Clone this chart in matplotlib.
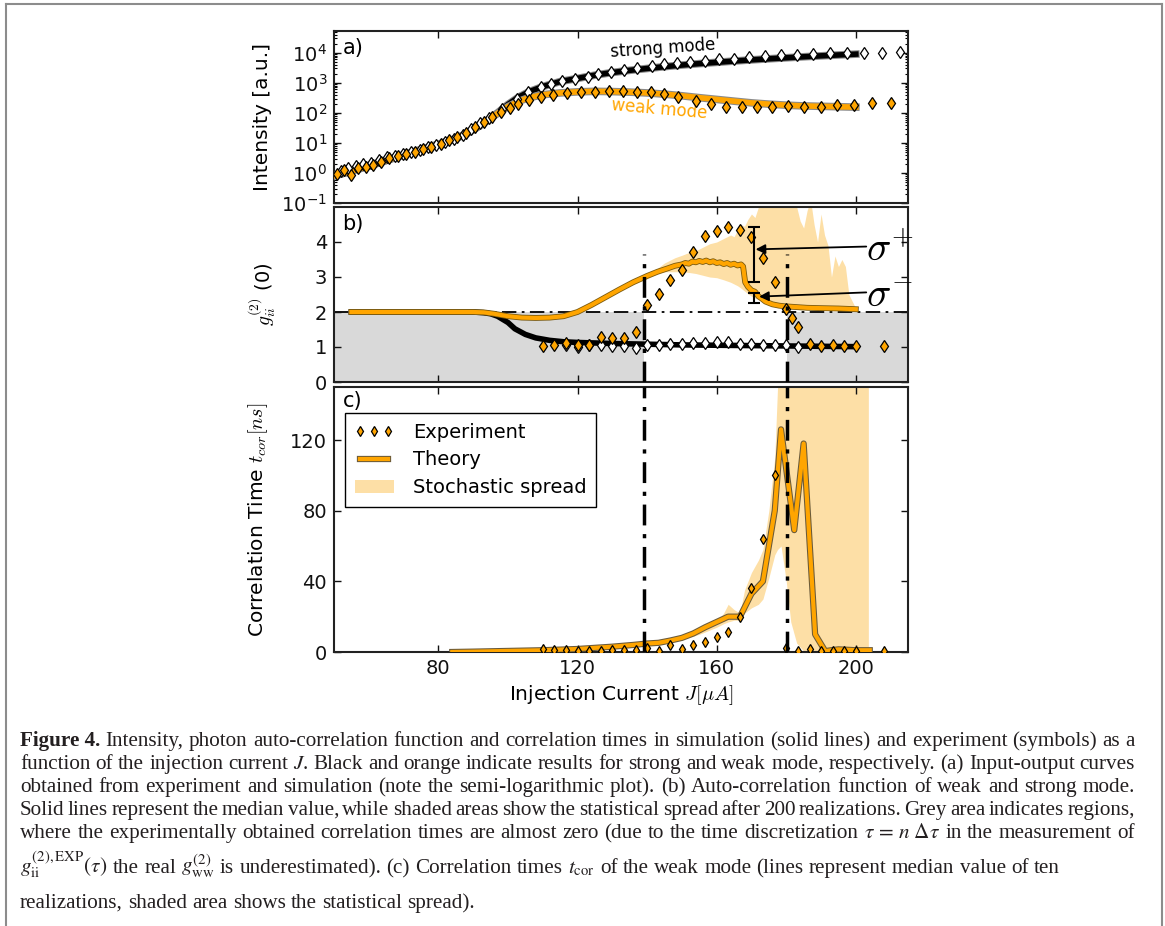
import matplotlib
matplotlib.use('Agg')
import matplotlib.pyplot as plt
import matplotlib.patheffects as pe
from matplotlib.lines import Line2D
from matplotlib.ticker import LogLocator, NullFormatter

# ---------------- data ----------------
# panel a: experiment
a_weak_exp_x = [50.8, 53.0, 54.9, 56.8, 59.2, 61.3, 63.5, 65.9, 68.3, 70.7, 73.3, 75.5, 77.9, 80.8,
                83.0, 85.5, 88.0, 90.5, 93.0, 95.5, 98.0, 100.5, 103.0, 106.0, 109.5, 113.0, 117.0,
                121.0, 125.0, 129.0, 133.0, 137.0, 141.0, 145.0, 149.0, 154.0, 158.5, 162.8, 167.2,
                171.5, 176.0, 180.5, 185.1, 189.9, 194.6, 199.6, 204.7, 210.0]
a_weak_exp_y = [0.94, 1.21, 0.83, 1.45, 1.55, 1.86, 2.3, 3.1, 3.8, 4.3, 5.1, 6.3, 7.1, 9.1,
                12.6, 16, 22, 33, 50, 75, 110, 150, 200, 260, 330, 400, 450,
                490, 510, 530, 520, 500, 480, 440, 340, 250, 200, 162, 162,
                162, 162, 165, 162, 162, 178, 178, 205, 218]
a_strong_exp_x = [52.1, 54.0, 56.2, 58.3, 60.7, 62.9, 65.2, 67.4, 69.8, 72.2, 74.7, 76.9, 79.3, 82.0,
                  84.5, 87.0, 89.5, 92.0, 94.5, 98.4, 102.7, 105.7, 109.4, 112.5, 115.5, 119.2,
                  122.9, 126.0, 129.6, 133.3, 137.0, 141.3, 144.9, 148.6, 152.3, 156.6, 160.7,
                  165.0, 169.3, 173.8, 178.4, 183.0, 187.8, 192.5, 197.5, 202.3, 207.6, 212.8]
a_strong_exp_y = [1.12, 1.45, 1.77, 2.0, 2.2, 2.8, 3.3, 3.8, 4.3, 5.1, 5.9, 7.1, 8.5, 11,
                  14, 19, 28, 45, 70, 138, 295, 490, 720, 930, 1130, 1350,
                  1620, 2000, 2240, 2680, 3100, 3700, 4230, 4600, 5000, 5450, 6200,
                  6300, 7000, 7600, 8200, 8600, 9300, 9800, 9800, 10200, 10200, 10800]
# panel a: theory (median)
a_th_x = [50, 55, 60, 65, 70, 75, 80, 85, 88, 91, 94, 97, 100, 103, 106, 110, 115, 120, 125, 130,
          135, 140, 145, 150, 155, 160, 165, 170, 175, 180, 185, 190, 195, 200]
a_strong_th = [0.8, 1.15, 1.7, 2.6, 4, 6, 9, 14, 20, 32, 55, 100, 190, 330, 500, 750, 1100, 1400,
               1800, 2200, 2600, 3000, 3450, 3900, 4350, 4800, 5300, 5800, 6300, 6800, 7350,
               7900, 8450, 9000]
a_weak_th = [0.8, 1.15, 1.7, 2.6, 4, 6, 9, 14, 20, 32, 55, 95, 160, 240, 320, 400, 460, 500,
             520, 510, 490, 460, 420, 370, 320, 280, 245, 215, 195, 180, 170, 165, 160, 155]

# panel b: experiment
b_weak_exp_x = [110, 113.3, 116.7, 120, 123.3, 126.7, 130, 133.3, 136.7, 140, 143.3, 146.7, 150,
                153.3, 156.7, 160, 163.3, 166.7, 170, 173.3, 176.7, 180, 181.7, 183.3, 186.7, 190,
                193.3, 196.7, 200, 208]
b_weak_exp_y = [1.02, 1.05, 1.12, 1.05, 1.07, 1.28, 1.27, 1.27, 1.44, 2.2, 2.5, 2.92, 3.2,
                3.72, 4.18, 4.3, 4.42, 4.35, 4.15, 3.55, 2.85, 2.08, 1.82, 1.57, 1.1, 1.03,
                1.05, 1.03, 1.03, 1.02]
b_strong_exp_x = [116.7, 120, 123.3, 126.7, 130, 133.3, 136.7, 140, 143.3, 146.7, 150, 153.3,
                  156.7, 160, 163.3, 166.7, 170, 173.3, 176.7, 180, 183.3]
b_strong_exp_y = [1.05, 1.0, 1.05, 1.05, 1.03, 1.03, 0.98, 1.05, 1.05, 1.1, 1.1, 1.12,
                  1.12, 1.14, 1.14, 1.1, 1.1, 1.05, 1.05, 1.05, 1.0]
# panel b: theory
b_strong_th_x = [55, 80, 90, 93, 95, 97, 100, 102, 105, 108, 112, 116, 120, 130, 140, 150, 160,
                 170, 180, 190, 200]
b_strong_th_y = [2.0, 2.0, 2.0, 1.98, 1.95, 1.88, 1.7, 1.52, 1.36, 1.26, 1.19, 1.15, 1.13, 1.1,
                 1.08, 1.06, 1.05, 1.04, 1.03, 1.02, 1.01]
b_weak_th_x = [55, 70, 90, 93, 96, 100, 104, 108, 112, 116, 120, 124, 128, 132, 136, 140, 143,
               146, 148, 150, 151, 152, 153, 154, 155, 156, 157, 158, 159, 160, 161, 162, 163,
               164, 165, 166, 167, 167.6, 168.2, 169, 170, 171, 172, 173, 174, 176, 178, 180,
               183, 186, 190, 195, 200]
b_weak_th_y = [2.0, 2.0, 2.0, 1.99, 1.95, 1.88, 1.84, 1.83, 1.84, 1.88, 2.0, 2.2, 2.42, 2.64,
               2.85, 3.03, 3.15, 3.25, 3.32, 3.36, 3.40, 3.38, 3.44, 3.42, 3.46, 3.43, 3.47,
               3.42, 3.45, 3.40, 3.42, 3.37, 3.40, 3.35, 3.38, 3.33, 3.36, 3.30, 2.85, 2.72,
               2.62, 2.58, 2.45, 2.38, 2.30, 2.22, 2.18, 2.16, 2.14, 2.12, 2.11, 2.10, 2.08]
b_spread_x = [135, 140, 143, 145, 148, 150, 152, 154, 156, 158, 160, 162, 164, 165, 166, 167,
              168, 169, 170, 171, 172, 173, 175, 178, 180, 181, 183, 184, 185, 186, 187, 188,
              189, 190, 191, 192, 193, 194, 195, 196, 197, 198, 199, 200]
b_spread_lo = [2.75, 2.95, 3.1, 3.15, 3.15, 3.15, 3.13, 3.1, 3.05, 3.0, 2.98, 2.92, 2.85, 2.8,
               2.75, 2.68, 2.6, 2.52, 2.45, 2.4, 2.35, 2.3, 2.22, 2.15, 2.1, 2.1, 2.09, 2.09,
               2.09, 2.08, 2.08, 2.08, 2.08, 2.08, 2.07, 2.07, 2.07, 2.06, 2.06, 2.06, 2.05,
               2.05, 2.05, 2.05]
b_spread_hi = [2.8, 3.05, 3.25, 3.4, 3.55, 3.62, 3.7, 3.75, 3.85, 3.95, 4.0, 4.1, 4.2, 4.15,
               4.35, 4.5, 4.45, 4.65, 4.8, 4.7, 5.0, 5.3, 5.5, 5.5, 5.2, 5.5, 5.0, 4.6, 4.4,
               4.9, 5.2, 4.5, 4.0, 4.8, 4.2, 3.9, 3.0, 3.6, 3.3, 3.5, 3.3, 2.5, 2.3, 2.1]
sigma_x = 170.7
sigma_plus = (2.87, 4.42)
sigma_minus = (2.25, 2.55)
vline_x = [139.0, 180.2]

# panel c
c_exp_x = [110, 113.3, 116.7, 120, 123.3, 126.7, 130, 133.3, 136.7, 140, 143.3, 146.7, 150, 153.3,
           156.7, 160, 163.3, 166.7, 170, 173.3, 176.7, 180, 183.3, 186.7, 190, 193.3, 196.7, 200,
           208]
c_exp_y = [1.5, 1.0, 1.0, 0.5, 0.5, 0.8, 1.0, 1.0, 1.0, 2.5, 0.5, 4.0, 1.5, 4.0,
           5.8, 8.6, 11.5, 20, 36, 64, 100, 2.0, 0.5, 1.5, 0.8, 0.5, 0.5, 0.5, 0.8]
c_th_x = [84, 90, 100, 110, 120, 130, 136, 140, 143.3, 146.7, 150, 153.3, 156.7, 160, 163.3,
          166.7, 170, 173.3, 176.7, 178.5, 182.3, 185, 188.3, 191.2, 193, 195, 198, 200, 204]
c_th_y = [0, 0.2, 0.6, 1.0, 1.7, 3.0, 4.0, 4.8, 5.2, 6.5, 8.0, 10.5, 14, 17, 20,
          20, 33, 40, 80, 126, 69, 118, 10, 0.5, 1.0, 1.5, 1.2, 1.0, 1.0]
c_spread_x = [84, 100, 120, 130, 140, 145, 150, 155, 160, 162, 163.3, 165, 166.7, 168, 170, 172,
              173.3, 175, 176.7, 177.5, 178.5, 180, 181.3, 183, 185, 187, 190, 195, 200, 203.6]
c_spread_lo = [0, 0.4, 1.2, 2.5, 4.0, 5.0, 7.0, 10, 14, 16, 17, 18, 18, 22, 25, 27,
               30, 42, 55, 58, 60, 40, 17, 5, 0.6, 0, 0, 0, 0, 0]
c_spread_hi = [0, 0.8, 2.2, 3.5, 5.5, 6.5, 9, 12, 17, 22, 27, 24, 22, 35, 45, 52,
               58, 80, 110, 150, 160, 160, 160, 160, 160, 160, 160, 160, 160, 160]

x_ticks = [80, 120, 160, 200]

caption_lines = [
    "Intensity, photon auto-correlation function and correlation times in simulation (solid lines) and experiment (symbols) as a",
    "function of the injection current $J$. Black and orange indicate results for strong and weak mode, respectively. (a) Input-output curves",
    "obtained from experiment and simulation (note the semi-logarithmic plot). (b) Auto-correlation function of weak and strong mode.",
    "Solid lines represent the median value, while shaded areas show the statistical spread after 200 realizations. Grey area indicates regions,",
    r"where the experimentally obtained correlation times are almost zero (due to the time discretization $\tau\,=\,n\ \Delta\tau$ in the measurement of",
    r"$g_{\rm ii}^{(2),{\rm EXP}}(\tau)$ the real $g_{\rm ww}^{(2)}$ is underestimated). (c) Correlation times $t_{\rm cor}$ of the weak mode (lines represent median value of ten",
    "realizations, shaded area shows the statistical spread).",
]

# ---------------- style ----------------
plt.rcParams['font.family'] = ['DejaVu Sans']
plt.rcParams['mathtext.fontset'] = 'dejavusans'

W, H = 1165, 926
fig = plt.figure(figsize=(W / 100, H / 100), dpi=100)

ORANGE = '#FFA500'
SPREAD = '#FDDFA6'


def rect(l, t, r, b):
    return [l / W, 1 - b / H, (r - l) / W, (b - t) / H]


axa = fig.add_axes(rect(334, 31, 908, 203))
axb = fig.add_axes(rect(334, 207, 908, 382))
axc = fig.add_axes(rect(334, 387, 908, 652))

for ax in (axa, axb, axc):
    ax.set_xlim(50, 215)
    ax.set_xticks(x_ticks)
    ax.tick_params(which='major', direction='in', top=True, right=True, length=5, width=1,
                   labelsize=14, pad=5, colors='#111111')
    ax.tick_params(which='minor', direction='in', top=True, right=True, length=2.5, width=0.8)
    for s in ax.spines.values():
        s.set_linewidth(1.5)
        s.set_color('#222222')
axa.tick_params(labelbottom=False)
axb.tick_params(labelbottom=False)

line_fx = [pe.Stroke(linewidth=5.5, foreground='#8a8a8a'), pe.Normal()]
mk = dict(marker='d', ls='none', markersize=6, markeredgecolor='black', markeredgewidth=0.9)

# ---- panel a ----
axa.set_yscale('log')
axa.set_ylim(0.1, 5.3e4)
axa.set_yticks([1e-1, 1e0, 1e1, 1e2, 1e3, 1e4])
axa.yaxis.set_minor_locator(LogLocator(base=10, subs=range(2, 10), numticks=20))
axa.yaxis.set_minor_formatter(NullFormatter())
axa.plot(a_th_x, a_strong_th, color='black', lw=4, path_effects=line_fx, zorder=3)
axa.plot(a_th_x, a_weak_th, color=ORANGE, lw=4, path_effects=line_fx, zorder=3)
axa.plot(a_strong_exp_x, a_strong_exp_y, markerfacecolor='white', zorder=4, **dict(mk, markersize=6.5))
axa.plot(a_weak_exp_x, a_weak_exp_y, markerfacecolor=ORANGE, zorder=4, **dict(mk, markersize=6.5))
axa.text(144.6, 1.35e4, 'strong mode', fontsize=12, color='black', ha='center', va='center',
         rotation=4)
axa.text(143.4, 1.3e2, 'weak mode', fontsize=12, color=ORANGE, ha='center', va='center',
         rotation=-5)
axa.text(0.015, 0.96, 'a)', transform=axa.transAxes, fontsize=15, va='top', ha='left')
axa.set_ylabel('Intensity [a.u.]', fontsize=14.5)
axa.yaxis.set_label_coords(-0.108, 0.5)

# ---- panel b ----
axb.set_ylim(0, 5)
axb.set_yticks([0, 1, 2, 3, 4])
axb.axhspan(0, 2, xmin=0, xmax=(vline_x[0] - 50) / 165, color='#d9d9d9', zorder=0, lw=0)
axb.axhspan(0, 2, xmin=(vline_x[1] - 50) / 165, xmax=1, color='#d9d9d9', zorder=0, lw=0)
axb.axhline(2, color='black', lw=1.3, ls=(0, (8, 3, 1.5, 3)), zorder=1)
for xv in vline_x:
    axb.plot([xv, xv], [0, 3.65], color='black', lw=2.5, ls=(0, (6, 2.5, 1.2, 2.5)), zorder=5)
axb.fill_between(b_spread_x, b_spread_lo, b_spread_hi, color=SPREAD, lw=0, zorder=1)
axb.plot(b_strong_th_x, b_strong_th_y, color='black', lw=4, zorder=3)
axb.plot(b_weak_th_x, b_weak_th_y, color=ORANGE, lw=3,
         path_effects=[pe.Stroke(linewidth=4.2, foreground='#7a5a10'), pe.Normal()], zorder=3)
axb.plot(b_strong_exp_x, b_strong_exp_y, markerfacecolor='white', zorder=4, **mk)
axb.plot(b_weak_exp_x, b_weak_exp_y, markerfacecolor=ORANGE, zorder=4, **mk)
axb.errorbar([sigma_x], [sum(sigma_plus) / 2], yerr=[(sigma_plus[1] - sigma_plus[0]) / 2],
             color='black', lw=1.5, capsize=4, capthick=1.5, zorder=6)
axb.errorbar([sigma_x], [sum(sigma_minus) / 2], yerr=[(sigma_minus[1] - sigma_minus[0]) / 2],
             color='black', lw=1.5, capsize=4, capthick=1.5, zorder=6)
arrow = dict(arrowstyle='-|>', color='black', lw=1.3, shrinkA=0, shrinkB=0, mutation_scale=14)
axb.annotate('', xy=(sigma_x + 0.5, 3.79), xytext=(203, 3.87), arrowprops=arrow, zorder=6)
axb.annotate('', xy=(sigma_x + 1.5, 2.44), xytext=(203, 2.56), arrowprops=arrow, zorder=6)
axb.text(203, 3.78, r'$\sigma^{+}$', fontsize=29, math_fontfamily='cm', ha='left', va='center',
         clip_on=False, zorder=7)
axb.text(203, 2.5, r'$\sigma^{-}$', fontsize=29, math_fontfamily='cm', ha='left', va='center',
         clip_on=False, zorder=7)
axb.text(0.015, 0.96, 'b)', transform=axb.transAxes, fontsize=15, va='top', ha='left')
axb.set_ylabel(r'$g_{ii}^{(2)}$ (0)', fontsize=14, math_fontfamily='cm')
axb.yaxis.set_label_coords(-0.098, 0.5)

# ---- panel c ----
axc.set_ylim(0, 150)
axc.set_yticks([0, 40, 80, 120])
axc.fill_between(c_spread_x, c_spread_lo, c_spread_hi, color=SPREAD, lw=0, zorder=1,
                 label='Stochastic spread')
for xv in vline_x:
    axc.axvline(xv, color='black', lw=2.5, ls=(0, (6, 2.5, 1.2, 2.5)), zorder=5)
axc.plot(c_th_x, c_th_y, color=ORANGE, lw=3,
         path_effects=[pe.Stroke(linewidth=4.5, foreground='#6a5a3a'), pe.Normal()],
         zorder=3, label='Theory')
axc.plot(c_exp_x, c_exp_y, markerfacecolor=ORANGE, zorder=4, label='Experiment',
         **dict(mk, markersize=5.5))
axc.text(0.015, 0.985, 'c)', transform=axc.transAxes, fontsize=15, va='top', ha='left')
axc.set_ylabel(r'Correlation Time $t_{cor}[ns]$', fontsize=14.5, math_fontfamily='cm')
axc.yaxis.set_label_coords(-0.112, 0.5)
axc.set_xlabel(r'Injection Current $J[\mu A]$', fontsize=14.5, math_fontfamily='cm',
               labelpad=4)
h, l = axc.get_legend_handles_labels()
order = [l.index('Experiment'), l.index('Theory'), l.index('Stochastic spread')]
leg = axc.legend([h[i] for i in order], [l[i] for i in order], loc='upper left',
                 bbox_to_anchor=(0.019, 0.902), borderaxespad=0, numpoints=3, fontsize=14,
                 fancybox=False, framealpha=1, edgecolor='black', handlelength=2.0,
                 labelspacing=0.45, borderpad=0.5, handletextpad=1.0)
leg.get_frame().set_linewidth(1.0)

# ---- page frame ----
fc = '#8c8c8c'
fig.add_artist(Line2D([5.5 / W, 5.5 / W], [0, 1 - 3.5 / H], transform=fig.transFigure, color=fc, lw=1.5))
fig.add_artist(Line2D([5.5 / W, 1161.5 / W], [1 - 3.5 / H, 1 - 3.5 / H], transform=fig.transFigure, color=fc, lw=1.5))
fig.add_artist(Line2D([1161.5 / W, 1161.5 / W], [0, 1 - 3.5 / H], transform=fig.transFigure, color=fc, lw=1.5))

# ---- caption (justified) ----
r = fig.canvas.get_renderer()
cap_font = dict(family=['Liberation Serif', 'DejaVu Serif'], math_fontfamily='stix', color='#231f20')
x_left, x_right = 20, 1135


def split_words(s):
    words, cur, inmath = [], '', False
    for ch in s:
        if ch == '$':
            inmath = not inmath
        if ch == ' ' and not inmath:
            if cur:
                words.append(cur)
            cur = ''
        else:
            cur += ch
    if cur:
        words.append(cur)
    return words


# font size: average fit of the five full-width lines
ratios = []
for i in range(5):
    txt = ('Figure 4. ' + caption_lines[0]) if i == 0 else caption_lines[i]
    p = fig.text(0, 0, txt, fontsize=10, **cap_font)
    ratios.append((x_right - x_left) / p.get_window_extent(r).width)
    p.remove()
fs = 10 * sum(ratios) / len(ratios)
baselines = [746, 769, 792, 815, 838, 873, 908]


def place_line(x_start, yb, text, justify):
    words = split_words(text)
    arts = [fig.text(0, 1 - yb / H, w, fontsize=fs, va='baseline', **cap_font) for w in words]
    widths = [a.get_window_extent(r).width for a in arts]
    if justify and len(words) > 1:
        gap = (x_right - x_start - sum(widths)) / (len(words) - 1)
    else:
        gap = fs * 100 / 72 * 0.25
    x = x_start
    for a, w in zip(arts, widths):
        a.set_x(x / W)
        x += w + gap


tb = fig.text(x_left / W, 1 - baselines[0] / H, 'Figure 4.', fontsize=fs, weight='bold',
              va='baseline', **cap_font)
bw = tb.get_window_extent(r).x1
place_line(bw + fs * 0.35, baselines[0], caption_lines[0], True)
for i, (line, yb) in enumerate(zip(caption_lines[1:], baselines[1:]), start=1):
    place_line(x_left, yb, line, i <= 4)

fig.savefig('out.png', dpi=100)
